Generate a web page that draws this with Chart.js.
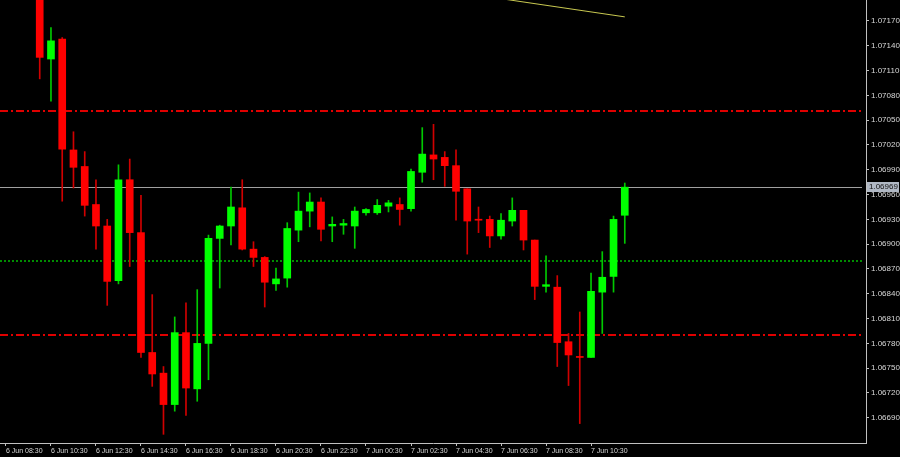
<!DOCTYPE html>
<html>
<head>
<meta charset="utf-8">
<script src="https://cdn.jsdelivr.net/npm/chart.js@4.4.1/dist/chart.umd.min.js"></script>
<style>
  html, body { margin: 0; padding: 0; background: #000; }
  #wrap { width: 900px; height: 457px; }
</style>
</head>
<body>
<div id="wrap"><canvas id="candles"></canvas></div>
<script>
// EURUSD M30, one bar per 30 min from 6 Jun 08:30; null = bar above the visible window
const opens = [null, null, null,
  1.07213, 1.07124, 1.07148, 1.07014, 1.06994, 1.06948, 1.06922, 1.06856, 1.06978, 1.06914,
  1.06769, 1.06744, 1.06706, 1.06793, 1.06725, 1.06780, 1.06907, 1.06922, 1.06944, 1.06894,
  1.06884, 1.06852, 1.06859, 1.06917, 1.06940, 1.06951, 1.06922, 1.06923, 1.06922, 1.06938,
  1.06938, 1.06946, 1.06948, 1.06943, 1.06987, 1.07008, 1.07005, 1.06995, 1.06967, 1.06930,
  1.06930, 1.06910, 1.06928, 1.06941, 1.06905, 1.06849, 1.06848, 1.06782, 1.06764, 1.06763,
  1.06842, 1.06861, 1.06935];
const highs = [null, null, null,
  1.07225, 1.07162, 1.07150, 1.07036, 1.07012, 1.06978, 1.06930, 1.06996, 1.07003, 1.06959,
  1.06839, 1.06752, 1.06812, 1.06829, 1.06845, 1.06911, 1.06923, 1.06969, 1.06978, 1.06903,
  1.06885, 1.06871, 1.06926, 1.06963, 1.06962, 1.06956, 1.06933, 1.06930, 1.06945, 1.06943,
  1.06954, 1.06953, 1.06956, 1.06991, 1.07041, 1.07045, 1.07012, 1.07014, 1.06967, 1.06945,
  1.06934, 1.06937, 1.06956, 1.06941, 1.06905, 1.06886, 1.06862, 1.06792, 1.06818, 1.06865,
  1.06891, 1.06934, 1.06974];
const lows = [null, null, null,
  1.07100, 1.07073, 1.06952, 1.06968, 1.06934, 1.06894, 1.06826, 1.06852, 1.06873, 1.06763,
  1.06728, 1.06670, 1.06698, 1.06693, 1.06710, 1.06736, 1.06847, 1.06899, 1.06893, 1.06873,
  1.06824, 1.06844, 1.06848, 1.06903, 1.06921, 1.06904, 1.06903, 1.06912, 1.06895, 1.06935,
  1.06936, 1.06939, 1.06923, 1.06940, 1.06975, 1.06978, 1.06970, 1.06929, 1.06888, 1.06914,
  1.06896, 1.06906, 1.06922, 1.06893, 1.06833, 1.06842, 1.06752, 1.06729, 1.06683, 1.06763,
  1.06792, 1.06842, 1.06901];
const closes = [null, null, null,
  1.07126, 1.07146, 1.07015, 1.06993, 1.06947, 1.06922, 1.06855, 1.06978, 1.06914, 1.06769,
  1.06743, 1.06706, 1.06793, 1.06726, 1.06780, 1.06907, 1.06922, 1.06945, 1.06894, 1.06884,
  1.06854, 1.06858, 1.06919, 1.06940, 1.06951, 1.06918, 1.06924, 1.06925, 1.06940, 1.06942,
  1.06947, 1.06950, 1.06942, 1.06988, 1.07009, 1.07003, 1.06995, 1.06964, 1.06928, 1.06929,
  1.06910, 1.06929, 1.06941, 1.06905, 1.06849, 1.06851, 1.06781, 1.06766, 1.06763, 1.06843,
  1.06860, 1.06930, 1.06969];

// time axis: bar index of each label and its text
const tickIdx = [0, 4, 8, 12, 16, 20, 24, 28, 32, 36, 40, 44, 48, 52];
const tickLabels = ["6 Jun 08:30", "6 Jun 10:30", "6 Jun 12:30", "6 Jun 14:30", "6 Jun 16:30",
  "6 Jun 18:30", "6 Jun 20:30", "6 Jun 22:30", "7 Jun 00:30", "7 Jun 02:30", "7 Jun 04:30",
  "7 Jun 06:30", "7 Jun 08:30", "7 Jun 10:30"];
const priceTicks = [1.06690, 1.06720, 1.06750, 1.06780, 1.06810, 1.06840, 1.06870, 1.06900,
  1.06930, 1.06960, 1.06990, 1.07020, 1.07050, 1.07080, 1.07110, 1.07140, 1.07170];

// drawn objects
const redLevels = [1.07061, 1.06790];
const greenLevels = [1.06880];
const trendX = [40, 55];
const trendY = [1.07205, 1.07175];

const UP = '#00ff00', DOWN = '#ff0000';
const AXIS = '#c0c0c0';

const bodies = [], wicks = [];
opens.forEach((o, i) => {
  if (o === null) return;
  const up = closes[i] >= o;
  bodies.push({ x: i, y: [o, closes[i]], up });
  wicks.push({ x: i, y: [lows[i], highs[i]], up });
});
const bid = closes[closes.length - 1];

const levelLines = {
  id: 'levelLines',
  beforeDatasetsDraw(chart) {
    const { ctx, chartArea: a, scales: { y } } = chart;
    const hline = (v, color, dash, w) => {
      const py = Math.round(y.getPixelForValue(v)) + (w % 2 ? 0.5 : 0);
      ctx.save();
      ctx.strokeStyle = color;
      ctx.lineWidth = w;
      ctx.setLineDash(dash);
      ctx.beginPath();
      ctx.moveTo(a.left, py);
      ctx.lineTo(a.right - 4, py);
      ctx.stroke();
      ctx.restore();
    };
    redLevels.forEach(v => hline(v, '#e00000', [8, 3, 2, 3], 2));
    greenLevels.forEach(v => hline(v, '#008c00', [2, 2], 2));
    hline(bid, '#a0a0a0', [], 1);
  },
  afterDraw(chart) {
    // bid price box on the price scale
    const { ctx, chartArea: a, scales: { y } } = chart;
    const py = Math.round(y.getPixelForValue(bid));
    ctx.save();
    ctx.fillStyle = '#b0b8c4';
    ctx.fillRect(a.right + 1, py - 5, 32, 10);
    ctx.fillStyle = '#101010';
    ctx.font = '8px "Liberation Sans"';
    ctx.textBaseline = 'middle';
    ctx.fillText(bid.toFixed(5), a.right + 3, py);
    ctx.restore();
  }
};

new Chart(document.getElementById('candles'), {
  type: 'bar',
  data: {
    datasets: [
      {
        data: bodies,
        grouped: false,
        barThickness: 7,
        minBarLength: 1,
        borderWidth: 0,
        backgroundColor: c => (c.raw && c.raw.up ? UP : DOWN)
      },
      {
        data: wicks,
        grouped: false,
        barThickness: 1,
        borderWidth: 0,
        backgroundColor: c => (c.raw && c.raw.up ? '#00c800' : '#d00000')
      },
      {
        type: 'line',
        data: trendX.map((x, k) => ({ x, y: trendY[k] })),
        borderColor: '#c8c850',
        borderWidth: 1,
        pointRadius: 0
      }
    ]
  },
  options: {
    responsive: true,
    maintainAspectRatio: false,
    animation: false,
    layout: { padding: 0 },
    plugins: { legend: { display: false }, tooltip: { enabled: false } },
    scales: {
      x: {
        type: 'linear',
        min: -0.53,
        max: 76.44,
        offset: false,
        afterBuildTicks: s => { s.ticks = tickIdx.map(v => ({ value: v })); },
        afterFit: s => { s.height = 14; s.paddingLeft = 0; s.paddingRight = 0; },
        ticks: {
          align: 'start',
          maxRotation: 0,
          autoSkip: false,
          padding: 1,
          color: '#d8d8d8',
          font: { family: 'Liberation Sans', size: 7 },
          callback: (v, i) => tickLabels[i]
        },
        grid: { offset: false, drawOnChartArea: false, tickLength: 3, color: AXIS },
        border: { color: AXIS }
      },
      y: {
        position: 'right',
        min: 1.066595,
        max: 1.071954,
        afterBuildTicks: s => { s.ticks = priceTicks.map(v => ({ value: v })); },
        afterFit: s => { s.width = 34; s.paddingTop = 0; s.paddingBottom = 0; },
        ticks: {
          padding: 2,
          color: '#d8d8d8',
          font: { family: 'Liberation Sans', size: 8 },
          callback: v => v.toFixed(5)
        },
        grid: { drawOnChartArea: false, tickLength: 3, color: AXIS },
        border: { color: AXIS }
      }
    }
  },
  plugins: [levelLines]
});
</script>
</body>
</html>
